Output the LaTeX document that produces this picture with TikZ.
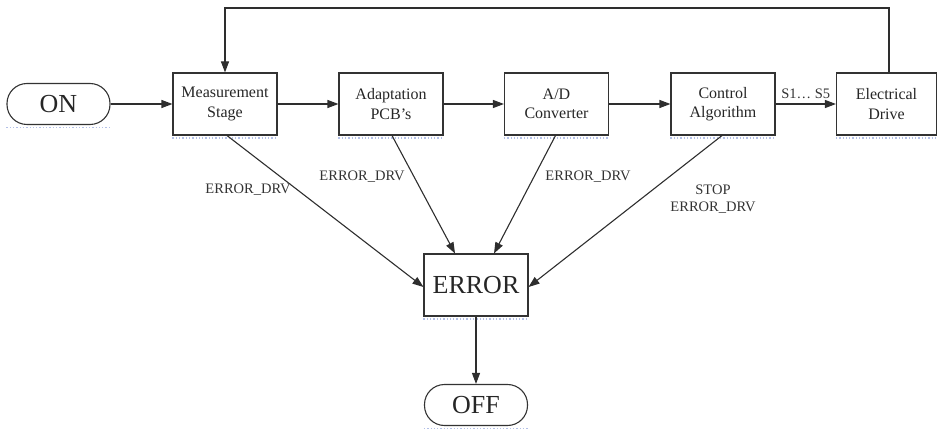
\documentclass[tikz,border=0pt]{standalone}
\usepackage{fontspec}
\setmainfont{Liberation Serif}
\usetikzlibrary{arrows.meta}
\begin{document}
\begin{tikzpicture}[x=1pt,y=-1pt,
 box/.style={draw=black!80, line width=1.1pt, minimum width=104pt, minimum height=62pt, inner sep=0pt, align=center, text=black!85, font=\fontsize{16}{19.5}\selectfont},
 term/.style={draw=black!80, line width=1.1pt, rounded corners=20pt, minimum width=103pt, minimum height=41pt, inner sep=0pt, text=black!85, font=\fontsize{26}{30}\selectfont},
 big/.style={box, font=\fontsize{26}{30}\selectfont},
 lab/.style={font=\fontsize{14.5}{17}\selectfont, align=center, inner sep=0pt, text=black!80},
 conn/.style={draw=black!82, line width=1.1pt, -{Triangle[length=11pt,width=8pt]}},
 shadowdots/.style={draw=cyan!40!blue!30, dotted, line width=1.3pt},
]
\useasboundingbox (0,0) rectangle (937,430);
\node[term] (on) at (58.5,104) {ON};
\node[box] (meas) at (225,104) {Measurement\\Stage};
\node[box] (adapt) at (391,104) {Adaptation\\PCB’s};
\node[box] (ad) at (556.5,104) {A/D\\Converter};
\node[box] (ctrl) at (723,104) {Control\\Algorithm};
\node[box, minimum width=100pt] (drive) at (886.5,104) {Electrical\\Drive};
\node[big] (err) at (476,285) {ERROR};
\node[term] (off) at (476,405) {OFF};

\foreach \n in {on,meas,adapt,ad,ctrl,drive,err,off}
  \draw[shadowdots] ([yshift=-2.5pt]\n.south west) -- ([yshift=-2.5pt]\n.south east);

\draw[conn] (on) -- (meas);
\draw[conn] (meas) -- (adapt);
\draw[conn] (adapt) -- (ad);
\draw[conn] (ad) -- (ctrl);
\draw[conn] (ctrl) -- node[lab, above=5pt] {S1… S5} (drive);
\coordinate (fbtop) at (225,8);
\draw[conn] ([xshift=2.5pt]drive.north) |- (fbtop) -- (meas.north);

\draw[conn] ([xshift=2pt]meas.south) -- ([yshift=-2pt]err.west);
\draw[conn] ([xshift=1pt]adapt.south) -- ([xshift=-21pt]err.north);
\draw[conn] ([xshift=-1pt]ad.south) -- ([xshift=18pt]err.north);
\draw[conn] ([xshift=-1pt]ctrl.south) -- ([yshift=-2pt]err.east);
\draw[conn] (err) -- (off);

\node[lab] (l1) at (248,190) {ERROR\_DRV};
\node[lab] (l2) at (362,177) {ERROR\_DRV};
\node[lab] (l3) at (588,177) {ERROR\_DRV};
\node[lab] (l4) at (713,199) {STOP\\ERROR\_DRV};
\end{tikzpicture}
\end{document}
